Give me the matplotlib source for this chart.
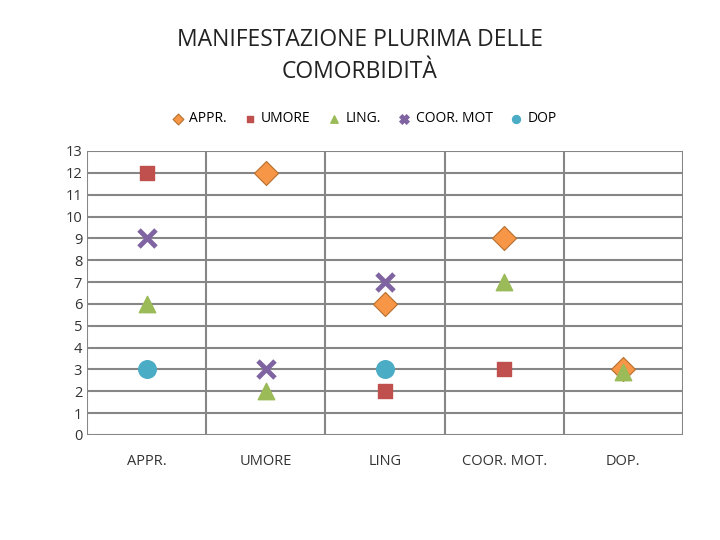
import matplotlib.pyplot as plt
import numpy as np

plt.rcParams['font.family'] = ['Open Sans', 'DejaVu Sans']

categories = ['APPR.', 'UMORE', 'LING', 'COOR. MOT.', 'DOP.']

# (x index, value) per series
appr_x, appr_y = [1, 2, 3, 4], [12, 6, 9, 3]
umore_x, umore_y = [0, 2, 3], [12, 2, 3]
ling_x, ling_y = [0, 1, 3, 4], [6, 2, 7, 2.9]
coor_x, coor_y = [0, 1, 2], [9, 3, 7]
dop_x, dop_y = [0, 2], [3, 3]

fig = plt.figure(figsize=(7.2, 5.4), dpi=100)
ax = fig.add_axes([87/720, 1-435/540, 596/720, 284/540])

ax.scatter(appr_x, appr_y, marker='D', s=150, color='#F79646', edgecolor='#B5702F', linewidth=0.8, label='APPR.', zorder=3)
ax.scatter(umore_x, umore_y, marker='s', s=110, color='#C0504D', label='UMORE', zorder=3)
ax.scatter(ling_x, ling_y, marker='^', s=140, color='#9BBB59', label='LING.', zorder=3)
ax.scatter(coor_x, coor_y, marker='x', s=150, color='#8064A2', linewidth=3.5, label='COOR. MOT', zorder=3)
ax.scatter(dop_x, dop_y, marker='o', s=160, color='#4BACC6', label='DOP', zorder=3)

ax.set_xlim(-0.5, 4.5)
ax.set_ylim(0, 13)
ax.set_yticks(range(14))
ax.set_xticks(range(5))
ax.set_xticklabels(categories)
for x in np.arange(-0.5, 5, 1):
    ax.axvline(x, color='#868686', linewidth=1.5, zorder=1)
for y in range(14):
    ax.axhline(y, color='#868686', linewidth=1.5, zorder=1)
for s in ax.spines.values():
    s.set_visible(False)
ax.tick_params(length=0, labelsize=10.5, colors='#333333')
ax.tick_params(axis='x', pad=14)

fig.text(0.5, 1-56/540, 'MANIFESTAZIONE PLURIMA DELLE\nCOMORBIDITÀ', ha='center', va='center',
         fontsize=16.5, color='#222222', linespacing=1.5)
fig.legend(loc='center', bbox_to_anchor=(0.505, 1-119/540), ncol=5, frameon=False,
           fontsize=10, markerscale=0.45, handlelength=1.0, handletextpad=0.3, columnspacing=1.2)

fig.savefig('out.png', dpi=100)
